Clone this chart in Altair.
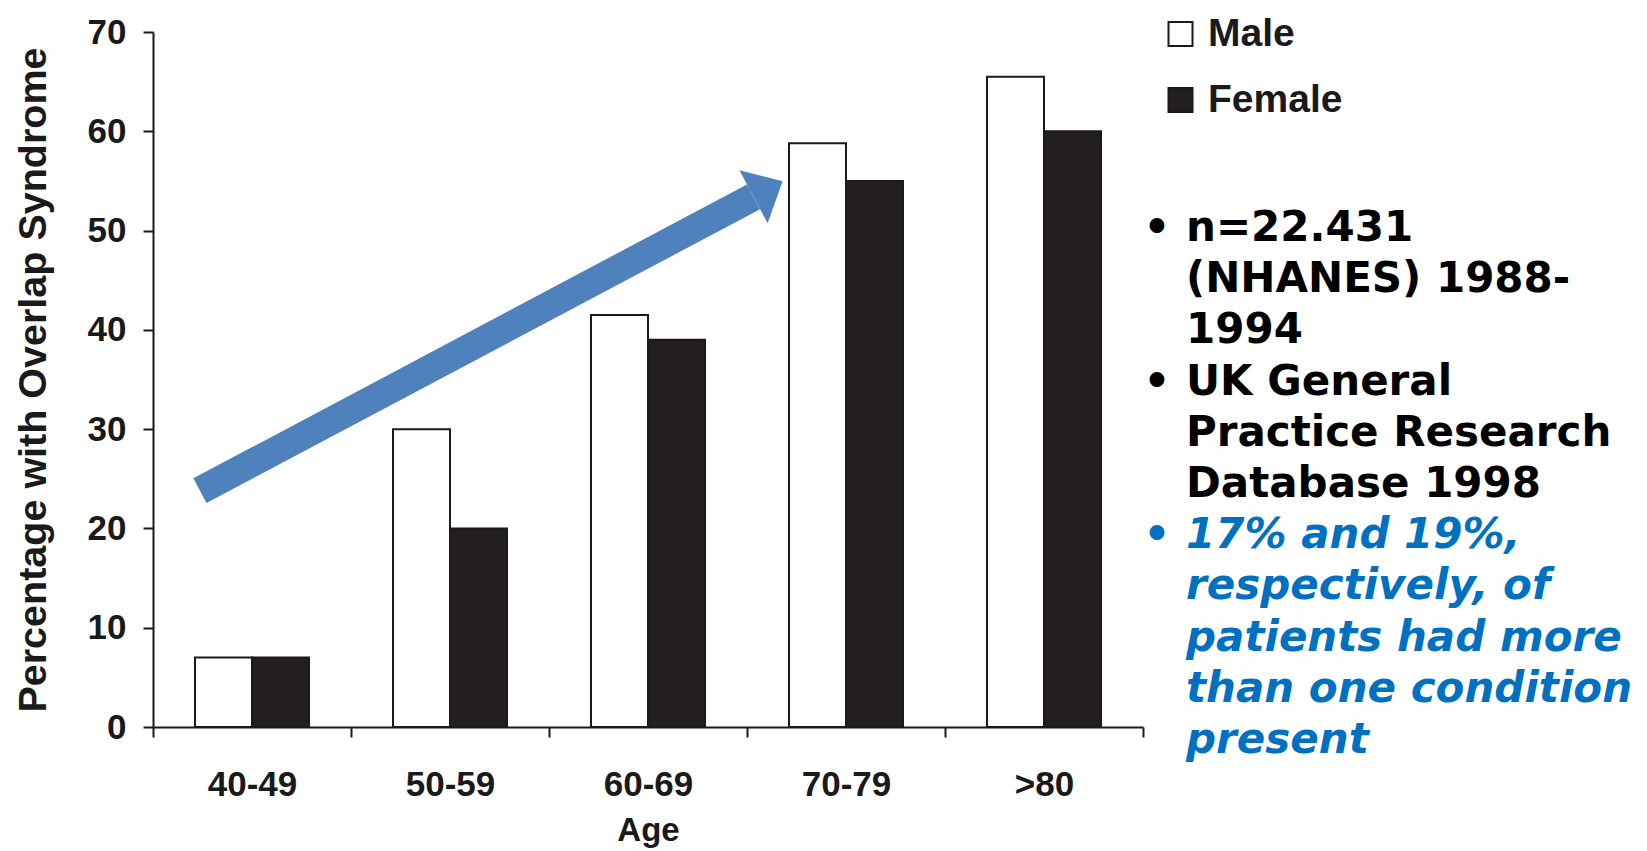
import altair as alt
import pandas as pd

# Share of patients with overlap syndrome, by age band and sex
ages = ["40-49", "50-59", "60-69", "70-79", ">80"]
male = [7, 30, 41.5, 58.8, 65.5]
female = [7, 20, 39, 55, 60]
sexes = ["Male", "Female"]

# Trend arrow, in (age-band index, percentage) units
arrow_x = [0.237, 3.033]
arrow_y = [23.8, 53.4]

# Notes beside the chart: (text, starts a bullet, highlighted)
notes = [
    ("n=22.431", True, False),
    ("(NHANES) 1988-", False, False),
    ("1994", False, False),
    ("UK General", True, False),
    ("Practice Research", False, False),
    ("Database 1998", False, False),
    ("17% and 19%,", True, True),
    ("respectively, of", False, True),
    ("patients had more", False, True),
    ("than one condition", False, True),
    ("present", False, True),
]

W, H = 990, 695
AX = "Liberation Sans"
NOTE_FONT = "DejaVu Sans"

bars_df = pd.DataFrame(
    [{"age": a, "sex": "Male", "pct": m} for a, m in zip(ages, male)]
    + [{"age": a, "sex": "Female", "pct": f} for a, f in zip(ages, female)]
)

bars = alt.Chart(bars_df).mark_bar(stroke="#1a1a1a", strokeWidth=2).encode(
    x=alt.X(
        "age:N",
        sort=ages,
        scale=alt.Scale(paddingInner=0, paddingOuter=0),
        axis=alt.Axis(
            title="Age",
            labelAngle=0,
            tickBand="extent",
            tickSize=10,
            labelPadding=30,
            titlePadding=12,
        ),
    ),
    xOffset=alt.XOffset(
        "sex:N", sort=sexes, scale=alt.Scale(paddingInner=0, paddingOuter=0.737)
    ),
    y=alt.Y(
        "pct:Q",
        scale=alt.Scale(domain=[0, 70], nice=False),
        axis=alt.Axis(
            title="Percentage with Overlap Syndrome",
            values=[0, 10, 20, 30, 40, 50, 60, 70],
            tickSize=10,
            labelPadding=17,
            titlePadding=34,
            titleFontSize=39.5,
            grid=False,
        ),
    ),
    color=alt.Color(
        "sex:N",
        sort=sexes,
        scale=alt.Scale(domain=sexes, range=["#ffffff", "#231f20"]),
        legend=alt.Legend(
            title=None,
            orient="none",
            legendX=1008,
            legendY=-17.5,
            symbolType="square",
            symbolSize=576,
            symbolStrokeColor="#1a1a1a",
            symbolStrokeWidth=2,
            symbolOpacity=1,
            labelFont=AX,
            labelFontWeight="bold",
            labelFontSize=39,
            labelColor="#1a1a1a",
            labelOffset=8,
            rowPadding=26,
            padding=0,
        ),
    ),
)

arrow_df = pd.DataFrame({"i": arrow_x, "v": arrow_y})
xq = alt.X("i:Q", scale=alt.Scale(domain=[0, 5], nice=False, zero=False), axis=None)
yq = alt.Y("v:Q")

shaft = alt.Chart(arrow_df).mark_line(
    color="#4f81bd", strokeWidth=28, strokeCap="butt"
).encode(x=xq, y=yq)

head = alt.Chart(arrow_df.tail(1)).mark_point(
    shape="M 0 -1 L 1.1 0 L 0 1 Z",
    size=3600,
    angle=332,
    filled=True,
    opacity=1,
    color="#4f81bd",
    strokeWidth=0,
).encode(x=xq, y=yq)

rows = []
for k, (txt, bullet, blue) in enumerate(notes):
    rows.append(
        {
            "txt": txt,
            "mark": "•" if bullet else "",
            "py": 209 + k * 51.2,
            "col": "#0070c0" if blue else "#000000",
            "sty": "italic" if blue else "normal",
        }
    )
notes_df = pd.DataFrame(rows)
plain_df = notes_df[notes_df["sty"] == "normal"]
italic_df = notes_df[notes_df["sty"] == "italic"]
bullet_df = notes_df[notes_df["mark"] != ""]

note_plain = alt.Chart(plain_df).mark_text(
    align="left", baseline="alphabetic", font=NOTE_FONT, fontWeight="bold", fontSize=42
).encode(
    x=alt.value(1033),
    y=alt.Y("py:Q", scale=None),
    text="txt:N",
    color=alt.Color("col:N", scale=None),
)

note_italic = alt.Chart(italic_df).mark_text(
    align="left",
    baseline="alphabetic",
    font=NOTE_FONT,
    fontWeight="bold",
    fontStyle="italic",
    fontSize=42,
).encode(
    x=alt.value(1033),
    y=alt.Y("py:Q", scale=None),
    text="txt:N",
    color=alt.Color("col:N", scale=None),
)

bullets = alt.Chart(bullet_df).mark_text(
    align="center", baseline="alphabetic", font=NOTE_FONT, fontWeight="bold", fontSize=42
).encode(
    x=alt.value(1004),
    y=alt.Y("py:Q", scale=None),
    text="mark:N",
    color=alt.Color("col:N", scale=None),
)

chart = (
    alt.layer(bars, shaft + head, note_plain, note_italic, bullets)
    .resolve_scale(x="independent")
    .properties(
        width=W,
        height=H,
        autosize=alt.AutoSizeParams(type="none"),
        padding={"left": 153, "top": 32, "right": 504, "bottom": 124},
        background="white",
    )
    .configure_view(stroke=None)
    .configure_axis(
        domainColor="#1a1a1a",
        domainWidth=2,
        tickColor="#1a1a1a",
        tickWidth=2,
        labelFont=AX,
        labelFontWeight="bold",
        labelFontSize=35,
        labelColor="#1a1a1a",
        titleFont=AX,
        titleFontWeight="bold",
        titleFontSize=33,
        titleColor="#1a1a1a",
    )
)

chart.save("out.html", embed_options={"renderer": "svg", "actions": False})
